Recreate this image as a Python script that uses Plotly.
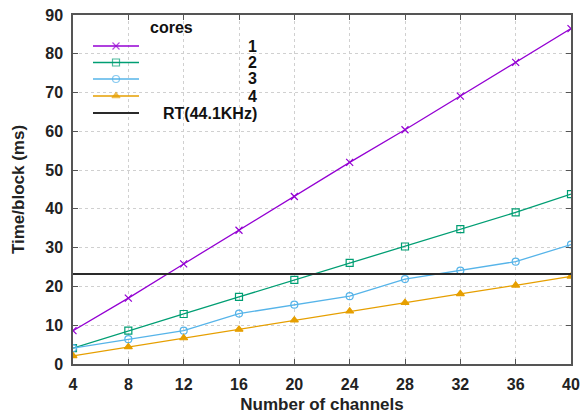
import plotly.graph_objects as go

channels = [4, 8, 12, 16, 20, 24, 28, 32, 36, 40]
core1 = [8.6, 17.0, 25.8, 34.5, 43.2, 52.0, 60.4, 69.1, 77.8, 86.5]
core2 = [4.1, 8.6, 12.9, 17.3, 21.7, 26.1, 30.3, 34.8, 39.1, 43.8]
core3 = [4.1, 6.4, 8.6, 13.0, 15.3, 17.5, 21.9, 24.1, 26.4, 30.8]
core4 = [2.1, 4.4, 6.7, 8.9, 11.3, 13.6, 15.8, 18.1, 20.3, 22.6]
rt_ms = 23.2
series_names = ["1", "2", "3", "4"]
rt_name = "RT(44.1KHz)"
legend_title = "cores"

colors = ["#9400d3", "#009e73", "#56b4e9", "#e69f00"]
symbols = ["x-thin-open", "square-open", "circle-open", "triangle-up"]
rt_color = "#2a2a2a"
FONT = "Liberation Sans, Arial, sans-serif"

# plot-area pixel geometry (for placing the hand-built legend)
L, R, T, B = 73, 571, 15, 364
W, H = R - L, B - T
def px(x):
    return (x - L) / W
def py(y):
    return (B - y) / H

fig = go.Figure()
for vals, name, c, s in zip([core1, core2, core3, core4], series_names, colors, symbols):
    fig.add_trace(go.Scatter(
        x=channels, y=vals, mode="lines+markers", name=name, showlegend=False,
        line=dict(color=c, width=1.3),
        marker=dict(symbol=s, size=7, color=c, line=dict(color=c, width=1.2)),
    ))
fig.add_trace(go.Scatter(
    x=[channels[0], channels[-1]], y=[rt_ms, rt_ms], mode="lines", name=rt_name,
    showlegend=False, line=dict(color=rt_color, width=2),
))

# legend (key) drawn on an overlay axis in plot-fraction units
row_y = [46, 62.5, 79, 96, 113]
kx0, kxm, kx1, label_right = 93, 116, 139, 259
shapes = [dict(type="rect", xref="paper", yref="paper", x0=px(86), x1=px(263),
               y0=py(121), y1=py(16), fillcolor="white", line=dict(width=0), layer="between")]
annotations = [dict(text="<b>%s</b>" % legend_title, xref="paper", yref="paper",
                    x=px(171), y=py(27), showarrow=False, xanchor="center", yanchor="middle",
                    font=dict(family=FONT, size=16, color="#111111"))]
for i, (name, c, s) in enumerate(zip(series_names, colors, symbols)):
    yy = py(row_y[i])
    fig.add_trace(go.Scatter(
        x=[px(kx0), px(kxm), px(kx1)], y=[yy, yy, yy], xaxis="x2", yaxis="y2",
        mode="lines+markers", showlegend=False, hoverinfo="skip",
        line=dict(color=c, width=1.3),
        marker=dict(symbol=s, size=[0, 7, 0], color=c, line=dict(color=c, width=1.2)),
    ))
    annotations.append(dict(text="<b>%s</b>" % name, xref="paper", yref="paper",
                            x=px(label_right), y=yy, showarrow=False,
                            xanchor="right", yanchor="middle",
                            font=dict(family=FONT, size=16, color="#111111")))
yy = py(row_y[4])
fig.add_trace(go.Scatter(
    x=[px(kx0), px(kx1)], y=[yy, yy], xaxis="x2", yaxis="y2", mode="lines",
    showlegend=False, hoverinfo="skip", line=dict(color=rt_color, width=2),
))
annotations.append(dict(text="<b>%s</b>" % rt_name, xref="paper", yref="paper",
                        x=px(label_right), y=yy, showarrow=False,
                        xanchor="right", yanchor="middle",
                        font=dict(family=FONT, size=16, color="#111111")))

axis_common = dict(
    showline=True, mirror="ticks", linecolor="#555555", linewidth=1.5,
    ticks="inside", ticklen=5, tickcolor="#555555",
    showgrid=True, gridcolor="#d0d0d0", griddash="dot", gridwidth=1,
    zeroline=False, automargin=False,
    tickfont=dict(family=FONT, size=16, color="#222222", weight="bold"),
)
fig.update_layout(
    width=582, height=414,
    margin=dict(l=L, r=582 - R, t=T, b=414 - B, autoexpand=False),
    paper_bgcolor="white", plot_bgcolor="white",
    font=dict(family=FONT, size=14, color="#222222"),
    xaxis=dict(range=[4, 40], tick0=4, dtick=4, ticklabelstandoff=5,
               title=dict(text="<b>Number of channels</b>", standoff=10,
                          font=dict(family=FONT, size=17, color="#222222")),
               **axis_common),
    yaxis=dict(range=[0, 90], dtick=10, ticklabelstandoff=5,
               title=dict(text="<b>Time/block (ms)</b>", standoff=16,
                          font=dict(family=FONT, size=17, color="#222222")),
               **axis_common),
    xaxis2=dict(overlaying="x", range=[0, 1], visible=False, fixedrange=True),
    yaxis2=dict(overlaying="y", range=[0, 1], visible=False, fixedrange=True),
    shapes=shapes, annotations=annotations,
    showlegend=False,
)
fig.write_html("out.html")
